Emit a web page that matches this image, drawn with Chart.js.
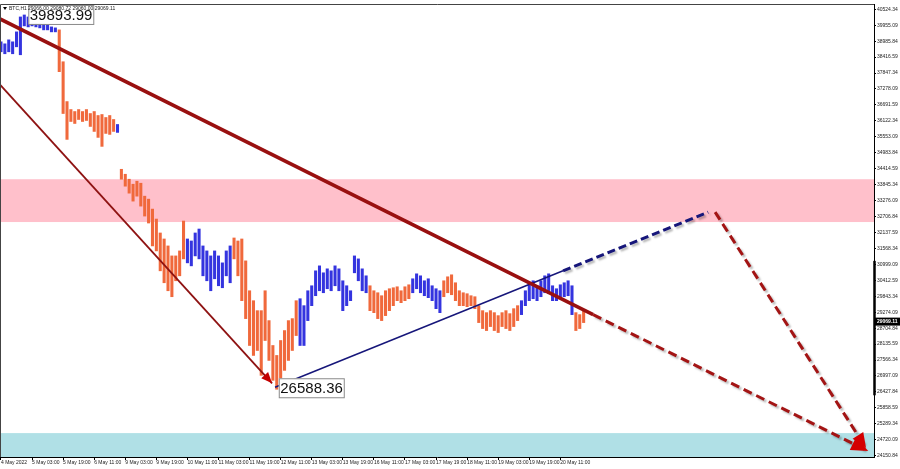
<!DOCTYPE html>
<html>
<head>
<meta charset="utf-8">
<script src="https://cdn.jsdelivr.net/npm/chart.js@4.4.1/dist/chart.umd.min.js"></script>
<style>
  html, body { margin: 0; padding: 0; background: #fff; }
</style>
</head>
<body>
<canvas id="myChart" width="900" height="469"></canvas>
<script>
// time axis: hour slots (weekends removed) and their labels
const timeSlots = [0, 16, 32, 48, 64, 80, 96, 112, 128, 144, 160, 176, 192, 208, 224, 240, 256, 272, 288];
const timeLabels = ["4 May 2022", "5 May 03:00", "5 May 19:00", "6 May 11:00", "9 May 03:00", "9 May 19:00",
  "10 May 11:00", "11 May 03:00", "11 May 19:00", "12 May 11:00", "13 May 03:00", "13 May 19:00",
  "16 May 11:00", "17 May 03:00", "17 May 19:00", "18 May 11:00", "19 May 03:00", "19 May 19:00", "20 May 11:00"];

// price axis labels as printed on the chart
const priceLabels = ["40524.34", "39955.09", "38985.84", "38416.59", "37847.34", "37278.09", "36691.59",
  "36122.34", "35553.09", "34983.84", "34414.59", "33845.34", "33276.09", "32706.84", "32137.59",
  "31568.34", "30999.09", "30412.59", "29843.34", "29274.09", "28704.84", "28135.59", "27566.34",
  "26997.09", "26427.84", "25858.59", "25289.34", "24720.09", "24150.84"];

// BTC H1, one bar every 2 hours
const barHighs = [
  39331, 39257, 39403, 39331, 39696, 40243, 40316, 40243, 40170, 40134,
  40134, 39988, 39951, 39878, 39842, 39769, 38600, 37139, 36847, 36774,
  36847, 36774, 36847, 36701, 36774, 36628, 36665, 36555, 36628, 36482,
  36299, 34656, 34474, 34291, 34108, 34218, 34145, 33670, 33561, 33196,
  32831, 32320, 32100, 31845, 31479, 31479, 31662, 32758, 32100, 32027,
  32320, 32465, 31845, 31662, 31479, 31662, 31479, 31224, 31662, 31845,
  32137, 32027, 32100, 31297, 30201, 29836, 29471, 29471, 30201, 29106,
  28193, 27828, 28376, 28741, 29106, 29179, 29836, 29909, 29654, 30201,
  30384, 30932, 31114, 30859, 31005, 30932, 31114, 31005, 30567, 30384,
  30201, 31479, 31370, 31005, 30749, 30384, 30201, 30128, 30019, 30201,
  30275, 30311, 30347, 30201, 30347, 30420, 30640, 30822, 30749, 30567,
  30640, 30384, 30275, 30201, 30567, 30713, 30786, 30494, 30201, 30128,
  30092, 30019, 29982, 29654, 29471, 29398, 29471, 29398, 29289, 29398,
  29471, 29361, 29544, 29654, 29836, 30201, 30494, 30567, 30384, 30567,
  30749, 30822, 30384, 30275, 30420, 30494, 30567, 30384, 29398, 29325,
  29471
];
const barLows = [
  38965, 38893, 38965, 38893, 39148, 38856, 39915, 39878, 39915, 39878,
  39842, 39769, 39769, 39696, 39696, 38235, 36701, 35752, 36409, 36336,
  36482, 36409, 36446, 36227, 36044, 35825, 35496, 35971, 35935, 36044,
  36008, 34291, 34036, 33780, 33488, 33670, 33305, 32940, 32685, 31845,
  31662, 30932, 30494, 30201, 29982, 30567, 30749, 31370, 31224, 31114,
  31479, 31370, 30749, 30567, 30201, 30640, 30384, 30311, 30749, 30494,
  31370, 30749, 29836, 29179, 28193, 27828, 28010, 27098, 28376, 27645,
  26915, 26588, 26988, 27280, 27645, 28010, 28558, 28193, 28193, 29106,
  29654, 30019, 30201, 30128, 30275, 30201, 30384, 30201, 29471, 29654,
  29836, 30859, 30567, 30201, 30128, 29471, 29398, 29179, 29106, 29289,
  29471, 29654, 29836, 29763, 29836, 29909, 30128, 30275, 30128, 30019,
  29946, 29836, 29544, 29398, 29982, 30128, 30055, 29836, 29654, 29654,
  29617, 29654, 29544, 29033, 28814, 28741, 28887, 28741, 28668, 28887,
  28814, 28741, 28887, 29106, 29325, 29654, 29836, 29909, 29836, 29982,
  30128, 30092, 29836, 29836, 29909, 29982, 30019, 29325, 28741, 28814,
  29033
];
// wave colouring: run lengths, starting with an up (blue) wave, alternating
const waveRuns = [15, 15, 1, 17, 12, 17, 18, 11, 8, 20, 14, 3];

const lastPrice = "29069.11";
const waveHigh = "39893.99";
const waveLow = "26588.36";

// zones and the thick range mark on the price axis
const resistZone = [32721, 34291];
const supportZone = [24000, 24980];
const axisRange = [26367, 31297];

// trend lines, [slot, price]
const trendMain = [[-0.5, 40170], [304.9, 29325]];
const trendMainFwd = [[304.9, 29325], [446.5, 24322]];
const trendWave = [[-0.5, 37760], [139.6, 26806]];
const channelUp = [[141.1, 26660], [289.4, 30932]];
const channelUpFwd = [[289.4, 30932], [364.1, 33086]];
const dropFwd = [[367.7, 33086], [445.4, 24432]];

const BLUE = "#3434df";
const ORANGE = "#f0693c";

const barColors = [];
waveRuns.forEach((n, r) => {
  for (let k = 0; k < n; k++) barColors.push(r % 2 === 0 ? BLUE : ORANGE);
});

const bars = barHighs.map((h, k) => ({ x: k * 2, y: [barLows[k], h] }));
const pts = (arr) => arr.map(([x, y]) => ({ x, y }));

function lineSet(arr, color, width, extra) {
  return Object.assign({
    type: "line",
    data: pts(arr),
    borderColor: color,
    borderWidth: width,
    pointRadius: 0,
    fill: false,
    tension: 0,
    order: 0,
  }, extra || {});
}

const overlay = {
  id: "overlay",
  beforeDatasetsDraw(chart) {
    const { ctx, chartArea: a, scales: { y } } = chart;
    ctx.save();
    ctx.beginPath();
    ctx.rect(a.left, a.top, a.width, a.height);
    ctx.clip();
    let t = y.getPixelForValue(resistZone[1]), b = y.getPixelForValue(resistZone[0]);
    ctx.fillStyle = "#ffc0cb";
    ctx.fillRect(a.left, t, a.width, b - t);
    t = y.getPixelForValue(supportZone[1]);
    b = y.getPixelForValue(supportZone[0]);
    ctx.fillStyle = "#b0e0e6";
    ctx.fillRect(a.left, t, a.width, b - t);
    ctx.restore();
  },
  beforeDatasetDraw(chart, args) {
    const ds = chart.data.datasets[args.index];
    if (ds.shadow) {
      chart.ctx.save();
      chart.ctx.shadowColor = "rgba(0,0,0,0.28)";
      chart.ctx.shadowOffsetX = 2;
      chart.ctx.shadowOffsetY = 2;
      chart.ctx.shadowBlur = 2;
    }
  },
  afterDatasetDraw(chart, args) {
    if (chart.data.datasets[args.index].shadow) chart.ctx.restore();
  },
  afterDatasetsDraw(chart) {
    const { ctx, scales: { x, y } } = chart;
    // arrow heads at line ends
    chart.data.datasets.forEach((ds, i) => {
      if (!ds.arrow) return;
      const el = chart.getDatasetMeta(i).data;
      const p1 = el[el.length - 2], p2 = el[el.length - 1];
      const ang = Math.atan2(p2.y - p1.y, p2.x - p1.x);
      ctx.save();
      ctx.translate(p2.x, p2.y);
      ctx.rotate(ang);
      ctx.beginPath();
      ctx.moveTo(0, 0);
      ctx.lineTo(-ds.arrow, -ds.arrow * 0.42);
      ctx.lineTo(-ds.arrow, ds.arrow * 0.42);
      ctx.closePath();
      ctx.fillStyle = ds.arrowColor;
      ctx.fill();
      ctx.restore();
    });
    // wave point labels
    const tag = (text, px, py) => {
      ctx.save();
      ctx.font = "15px 'Liberation Sans', Arial, sans-serif";
      const w = Math.round(ctx.measureText(text).width) + 2;
      ctx.fillStyle = "#fff";
      ctx.fillRect(px, py, w, 19);
      ctx.strokeStyle = "#8a8a8a";
      ctx.lineWidth = 1;
      ctx.strokeRect(px + 0.5, py + 0.5, w, 19);
      ctx.fillStyle = "#111";
      ctx.textBaseline = "middle";
      ctx.fillText(text, px + 1.5, py + 10.5);
      ctx.restore();
    };
    const hiK = barHighs.indexOf(Math.max(...barHighs));
    const loK = barLows.indexOf(Math.min(...barLows));
    tag(waveHigh, x.getPixelForValue(hiK * 2) + 4, y.getPixelForValue(barHighs[hiK]) - 10);
    tag(waveLow, x.getPixelForValue(loK * 2) + 2, y.getPixelForValue(barLows[loK]) - 11);
  },
  afterDraw(chart) {
    const { ctx, chartArea: a, scales: { y } } = chart;
    ctx.save();
    // frame
    ctx.strokeStyle = "#444";
    ctx.lineWidth = 1;
    ctx.beginPath();
    ctx.moveTo(a.left + 0.5, a.bottom);
    ctx.lineTo(a.left + 0.5, a.top + 0.5);
    ctx.lineTo(a.right, a.top + 0.5);
    ctx.stroke();
    // range mark on the price axis
    ctx.strokeStyle = "#000";
    ctx.lineWidth = 2.5;
    ctx.beginPath();
    ctx.moveTo(a.right + 0.5, y.getPixelForValue(axisRange[1]));
    ctx.lineTo(a.right + 0.5, y.getPixelForValue(axisRange[0]));
    ctx.stroke();
    // current price tag
    const py = y.getPixelForValue(parseFloat(lastPrice));
    ctx.fillStyle = "#000";
    ctx.fillRect(a.right + 1, py - 4, 26, 8);
    ctx.fillStyle = "#fff";
    ctx.font = "bold 5px 'Liberation Sans', Arial, sans-serif";
    ctx.textBaseline = "middle";
    ctx.fillText(lastPrice, a.right + 3, py + 0.5);
    // symbol caption
    ctx.fillStyle = "#000";
    ctx.beginPath();
    ctx.moveTo(a.left + 3, a.top + 3);
    ctx.lineTo(a.left + 7, a.top + 3);
    ctx.lineTo(a.left + 5, a.top + 6);
    ctx.closePath();
    ctx.fill();
    ctx.font = "5px 'Liberation Sans', Arial, sans-serif";
    ctx.fillStyle = "#222";
    ctx.fillText("BTC,H1", a.left + 9, a.top + 5);
    ctx.fillText("29066.00 29080.72 29060.00 " + lastPrice, a.left + 28, a.top + 5);
    ctx.restore();
  },
};

const ctx = document.getElementById("myChart").getContext("2d");

const priceTop = parseFloat(priceLabels[0]);
const priceBottom = parseFloat(priceLabels[priceLabels.length - 1]);

const config = {
  type: "bar",
  data: {
    datasets: [
      {
        type: "bar",
        data: bars,
        backgroundColor: barColors,
        borderWidth: 0,
        barThickness: 2.4,
        order: 5,
      },
      lineSet(trendWave, "#8e1212", 1.8, { arrow: 11, arrowColor: "#c40000" }),
      lineSet(trendMain, "#991010", 3.5),
      lineSet(trendMainFwd, "#a31414", 3, { borderDash: [9, 5], shadow: true, arrow: 17, arrowColor: "#d40000" }),
      lineSet(channelUp, "#16167a", 1.5),
      lineSet(channelUpFwd, "#16167a", 3, { borderDash: [8, 4], shadow: true }),
      lineSet(dropFwd, "#a31414", 3, { borderDash: [9, 5], shadow: true, arrow: 15, arrowColor: "#d40000" }),
    ],
  },
  options: {
    responsive: false,
    animation: false,
    layout: { padding: { top: 2, left: 0, right: 0, bottom: 0 } },
    plugins: {
      legend: { display: false },
      tooltip: { enabled: false },
    },
    scales: {
      x: {
        type: "linear",
        min: -0.5,
        max: 449.5,
        offset: false,
        grid: { drawOnChartArea: false, offset: false, tickLength: 3, color: "#000" },
        border: { color: "#000" },
        afterBuildTicks: (s) => { s.ticks = timeSlots.map((v) => ({ value: v })); },
        afterFit: (s) => { s.height = 12; },
        ticks: {
          autoSkip: false,
          maxRotation: 0,
          align: "start",
          padding: 0,
          color: "#222",
          font: { size: 5, family: "'Liberation Sans', Arial, sans-serif" },
          callback: (v, i) => timeLabels[i],
        },
      },
      y: {
        type: "linear",
        position: "right",
        min: 24103.5,
        max: 40717.9,
        grid: { drawOnChartArea: false, tickLength: 2, color: "#000" },
        border: { color: "#000" },
        afterBuildTicks: (s) => {
          s.ticks = priceLabels.map((t, k) => ({
            value: priceTop - k * (priceTop - priceBottom) / (priceLabels.length - 1),
          }));
        },
        afterFit: (s) => { s.width = 26; },
        ticks: {
          autoSkip: false,
          padding: 1,
          color: "#222",
          font: { size: 5, family: "'Liberation Sans', Arial, sans-serif" },
          callback: (v, i) => priceLabels[i],
        },
      },
    },
  },
  plugins: [overlay],
};

const myChart = new Chart(ctx, config);
</script>
</body>
</html>
